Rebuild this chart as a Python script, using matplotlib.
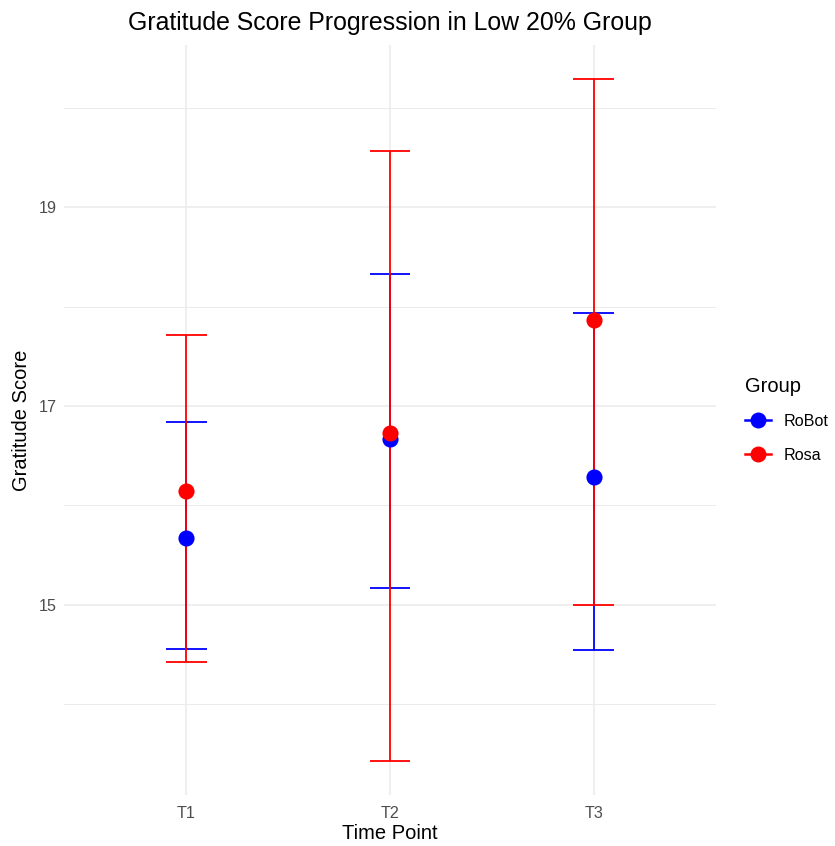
import matplotlib
matplotlib.use("Agg")
import matplotlib.pyplot as plt
from matplotlib.lines import Line2D
import numpy as np

plt.rcParams["font.family"] = ["Liberation Sans", "DejaVu Sans"]

# Mean gratitude scores with lower/upper error bounds per time point
time_points = ["T1", "T2", "T3"]
robot_mean = [15.67, 16.67, 16.29]
robot_low = [14.56, 15.17, 14.55]
robot_high = [16.84, 18.33, 17.94]
rosa_mean = [16.15, 16.73, 17.87]
rosa_low = [14.43, 13.43, 15.00]
rosa_high = [17.72, 19.57, 20.29]

groups = [
    ("RoBot", "blue", robot_mean, robot_low, robot_high),
    ("Rosa", "red", rosa_mean, rosa_low, rosa_high),
]

fig = plt.figure(figsize=(8.35, 8.46), dpi=100)
ax = fig.add_axes([0.0766, 0.0603, 0.7808, 0.8865])

x = np.arange(len(time_points))
cap = 0.1

# error bars first, then points on top
for name, color, mean, low, high in groups:
    ax.vlines(x, low, high, color=color, lw=1.3, zorder=3, snap=True)
    ax.hlines(low, x - cap, x + cap, color=color, lw=1.3, zorder=3, snap=True)
    ax.hlines(high, x - cap, x + cap, color=color, lw=1.3, zorder=3, snap=True)
for name, color, mean, low, high in groups:
    ax.scatter(x, mean, s=135, color=color, zorder=4, linewidths=0)

lo = min(robot_low + rosa_low)
hi = max(robot_high + rosa_high)
pad = (hi - lo) * 0.05
ax.set_ylim(lo - pad, hi + pad)
ax.set_xlim(-0.6, len(time_points) - 0.4)

ax.set_xticks(x)
ax.set_xticklabels(time_points)
ax.set_yticks([15, 17, 19])
ax.set_yticks([14, 16, 18, 20], minor=True)

for s in ax.spines.values():
    s.set_visible(False)
ax.tick_params(axis="both", which="both", length=0, labelsize=11.6,
               labelcolor="#4D4D4D")
ax.tick_params(axis="x", pad=8)
ax.tick_params(axis="y", pad=5)
ax.grid(which="major", color="#EBEBEB", lw=1.1)
ax.grid(which="minor", axis="y", color="#EBEBEB", lw=0.7)
ax.set_axisbelow(True)

ax.set_xlabel("Time Point", fontsize=14.5, labelpad=2)
ax.set_ylabel("Gratitude Score", fontsize=14.5, labelpad=6)
ax.set_title("Gratitude Score Progression in Low 20% Group", fontsize=17.9, pad=10.5)

handles = [Line2D([0], [0], color=c, lw=1.8, marker="o", markersize=11.5,
                  markeredgewidth=0, label=n) for n, c, *_ in groups]
leg = fig.legend(handles=handles, title="Group", loc="upper left",
                 bbox_to_anchor=(0.8754, 0.572), frameon=False,
                 fontsize=11.6, title_fontsize=14.5, handlelength=1.6,
                 handletextpad=0.75, labelspacing=1.15, alignment="left")

fig.savefig("out.png", dpi=100, facecolor="white")
